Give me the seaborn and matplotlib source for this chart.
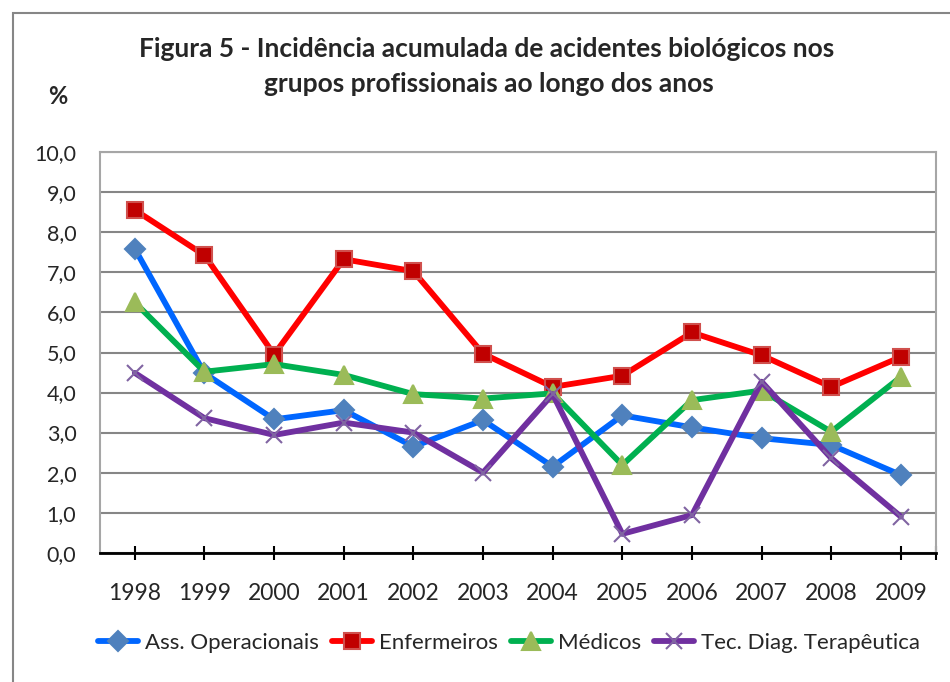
import matplotlib
matplotlib.use("Agg")
import matplotlib.pyplot as plt
import seaborn as sns
import pandas as pd
from matplotlib.patches import Rectangle
from matplotlib.ticker import FixedLocator, FuncFormatter

years = ["1998", "1999", "2000", "2001", "2002", "2003", "2004", "2005", "2006", "2007", "2008", "2009"]
ass_operacionais = [7.59, 4.48, 3.33, 3.56, 2.65, 3.31, 2.15, 3.43, 3.13, 2.86, 2.69, 1.94]
enfermeiros = [8.56, 7.43, 4.95, 7.33, 7.03, 4.97, 4.14, 4.42, 5.50, 4.93, 4.14, 4.89]
medicos = [6.25, 4.52, 4.71, 4.44, 3.96, 3.85, 3.98, 2.19, 3.81, 4.05, 3.02, 4.39]
tec_diag = [4.49, 3.36, 2.94, 3.25, 3.00, 2.00, 3.96, 0.47, 0.94, 4.27, 2.36, 0.90]

series_names = ["Ass. Operacionais", "Enfermeiros", "Médicos", "Tec. Diag. Terapêutica"]
series_values = [ass_operacionais, enfermeiros, medicos, tec_diag]

sns.set_theme(style="white")
plt.rcParams["font.family"] = ["Lato", "DejaVu Sans"]

fig = plt.figure(figsize=(9.5, 6.82), dpi=100)
ax = fig.add_axes([100/950, 1-552.7/682, 835.7/950, 400.4/682])

styles = [
    dict(color="#0066FF", marker="D", mfc="#4F81BD", mec="#4F81BD", ms=10),
    dict(color="#FF0000", marker="s", mfc="#C00000", mec="#D0504D", ms=12),
    dict(color="#00B050", marker="^", mfc="#9BBB59", mec="#9BBB59", ms=13),
    dict(color="#7030A0", marker="x", mfc="#8064A2", mec="#8064A2", ms=12),
]

x_idx = list(range(len(years)))
for name, vals, st in zip(series_names, series_values, styles):
    df = pd.DataFrame({"x": x_idx, "y": vals})
    sns.lineplot(data=df, x="x", y="y", ax=ax, color=st["color"], linewidth=4.2,
                 marker=st["marker"], markerfacecolor=st["mfc"], markeredgecolor=st["mec"],
                 markersize=st["ms"], markeredgewidth=1.5, label=name, legend=False)

ax.set_xlim(-0.5, 11.5)
ax.set_ylim(0, 10)
ax.set_yticks([i for i in range(11)])
ax.yaxis.set_major_formatter(FuncFormatter(lambda v, p: f"{v:.1f}".replace(".", ",")))
ax.set_xticks(x_idx)
ax.set_xticklabels(years)
ax.xaxis.set_minor_locator(FixedLocator([11.5]))
ax.set_xlabel("")
ax.set_ylabel("")
ax.grid(axis="y", color="#868686", linewidth=1.5)
ax.grid(axis="x", visible=False)
ax.set_axisbelow(True)
for s in ["left", "top", "right"]:
    ax.spines[s].set_color("#A6A6A6")
    ax.spines[s].set_linewidth(1.5)
ax.spines["bottom"].set_color("black")
ax.spines["bottom"].set_linewidth(2)
ax.tick_params(axis="x", which="both", direction="inout", length=10, width=1.5, color="black",
               labelsize=16.5, pad=17, bottom=True)
ax.tick_params(axis="y", length=0, labelsize=15.5, pad=17)

fig.text(487/950, 1-49/682, "Figura 5 - Incidência acumulada de acidentes biológicos nos",
         ha="center", va="center", fontsize=19, fontweight="bold")
fig.text(489/950, 1-84/682, "grupos profissionais ao longo dos anos",
         ha="center", va="center", fontsize=19, fontweight="bold")
fig.text(58/950, 1-97/682, "%", ha="center", va="center", fontsize=17, fontweight="bold")

handles, labels = ax.get_legend_handles_labels()
fig.legend(handles, labels, loc="center", bbox_to_anchor=(509/950, 1-643/682), ncol=4,
           frameon=False, fontsize=16, handlelength=1.8, handletextpad=0.3, columnspacing=0.6)

fig.patches.append(Rectangle((13/950, -0.01), 1.0, 1-13/682+0.01, transform=fig.transFigure,
                             fill=False, edgecolor="#868686", linewidth=1.5))

fig.savefig("out.png", dpi=100)
